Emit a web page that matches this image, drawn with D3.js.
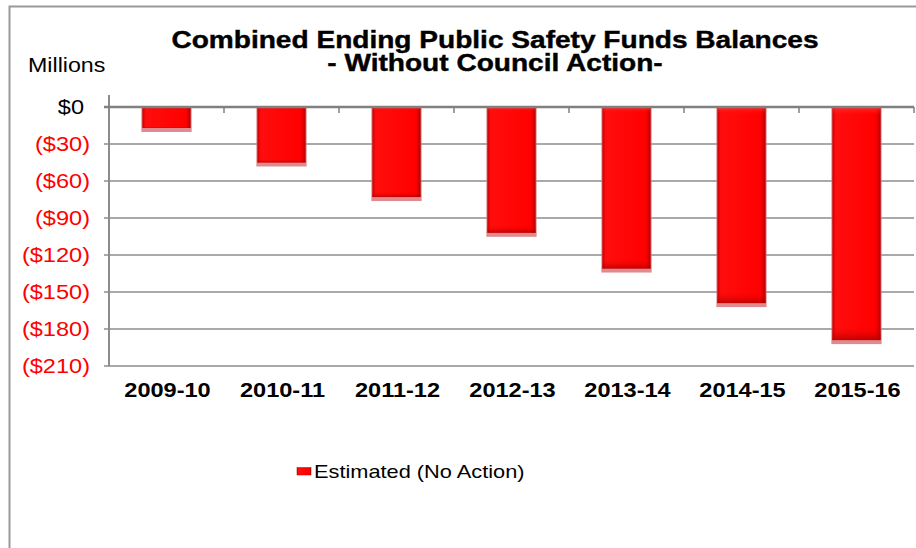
<!DOCTYPE html>
<html>
<head>
<meta charset="utf-8">
<script src="https://cdnjs.cloudflare.com/ajax/libs/d3/7.8.5/d3.min.js"></script>
<style>
  body { margin: 0; background: #fff; }
  text { font-family: "Liberation Sans", Arial, sans-serif; }
</style>
</head>
<body>
<div class="bigvis"></div>
<script>
var categories = ["2009-10", "2010-11", "2011-12", "2012-13", "2013-14", "2014-15", "2015-16"]
var balances = [-17, -45, -73, -102, -131, -159, -189]
var yTicks = [0, -30, -60, -90, -120, -150, -180, -210]
var seriesName = "Estimated (No Action)"
var titleLines = ["Combined Ending Public Safety Funds Balances", "- Without Council Action-"]

var width = 916, height = 548
var margin = {top: 107, right: 2, bottom: 182, left: 109}
var stretch = 1.19

var svg = d3.select(".bigvis").append("svg")
    .attr("width", width)
    .attr("height", height)

var defs = svg.append("defs")
var grad = defs.append("linearGradient").attr("id", "barGrad")
    .attr("x1", "0%").attr("x2", "100%").attr("y1", "0%").attr("y2", "0%")
grad.append("stop").attr("offset", "0%").attr("stop-color", "#c80000")
grad.append("stop").attr("offset", "7%").attr("stop-color", "#ff0d0d")
grad.append("stop").attr("offset", "90%").attr("stop-color", "#ff0000")
grad.append("stop").attr("offset", "100%").attr("stop-color", "#b80000")

var vgrad = defs.append("linearGradient").attr("id", "barShade")
    .attr("x1", "0%").attr("x2", "0%").attr("y1", "0%").attr("y2", "100%")
vgrad.append("stop").attr("offset", "0%").attr("stop-color", "#ff5050").attr("stop-opacity", 0.6)
vgrad.append("stop").attr("offset", "4%").attr("stop-color", "#ff0000").attr("stop-opacity", 0)
vgrad.append("stop").attr("offset", "94%").attr("stop-color", "#ff0000").attr("stop-opacity", 0)
vgrad.append("stop").attr("offset", "100%").attr("stop-color", "#900000").attr("stop-opacity", 0.6)

// chart border (only left and top visible)
svg.append("path")
    .attr("d", "M9.5,548 V6.5 H916")
    .attr("fill", "none")
    .attr("stroke", "#9a9a9a")
    .attr("stroke-width", 2)

var x = d3.scaleBand()
    .domain(categories)
    .range([margin.left, width - margin.right])
    .paddingInner(0.58)
    .paddingOuter(0.29)

var y = d3.scaleLinear()
    .domain([d3.min(yTicks), 0])
    .range([height - margin.bottom, margin.top])

function stext(sel, px, py, size){
  return sel.attr("transform", "translate(" + px + "," + py + ") scale(" + stretch + ",1)")
      .style("font-size", size + "px")
}

// gridlines
svg.append("g").selectAll("line")
    .data(yTicks.filter(function(d){ return d != 0 }))
  .enter().append("line")
    .attr("x1", margin.left - 5)
    .attr("x2", width - margin.right)
    .attr("y1", function(d){ return y(d) })
    .attr("y2", function(d){ return y(d) })
    .attr("stroke", "#8c8c8c")
    .attr("stroke-width", 1.5)

// left axis line
svg.append("line")
    .attr("x1", margin.left).attr("x2", margin.left)
    .attr("y1", 95).attr("y2", y(d3.min(yTicks)))
    .attr("stroke", "#8c8c8c").attr("stroke-width", 2)

// y tick labels
svg.append("g").selectAll("text")
    .data(yTicks)
  .enter().append("text")
    .each(function(d){
      stext(d3.select(this), d == 0 ? 84 : 90, y(d) + 7, 19.8)
    })
    .attr("text-anchor", "end")
    .attr("fill", function(d){ return d < 0 ? "#ff0000" : "#000" })
    .text(function(d){ return d == 0 ? "$0" : "($" + (-d) + ")" })

stext(svg.append("text"), 28, 72, 19.5).text("Millions")

// bars
var bars = svg.append("g")
bars.selectAll(".shadow")
    .data(balances)
  .enter().append("rect")
    .attr("class", "shadow")
    .attr("x", function(d, i){ return x(categories[i]) - 1 })
    .attr("y", y(0))
    .attr("width", x.bandwidth() + 2)
    .attr("height", function(d){ return y(d) - y(0) + 4 })
    .attr("fill", "#d9767a")
    .attr("opacity", 0.85)

bars.selectAll(".bar")
    .data(balances)
  .enter().append("rect")
    .attr("class", "bar")
    .attr("x", function(d, i){ return x(categories[i]) })
    .attr("y", y(0))
    .attr("width", x.bandwidth())
    .attr("height", function(d){ return y(d) - y(0) })
    .attr("fill", "url(#barGrad)")

bars.selectAll(".shade")
    .data(balances)
  .enter().append("rect")
    .attr("class", "shade")
    .attr("x", function(d, i){ return x(categories[i]) })
    .attr("y", y(0))
    .attr("width", x.bandwidth())
    .attr("height", function(d){ return y(d) - y(0) })
    .attr("fill", "url(#barShade)")

// zero line + category ticks
svg.append("line")
    .attr("x1", margin.left - 5).attr("x2", width - margin.right)
    .attr("y1", y(0)).attr("y2", y(0))
    .attr("stroke", "#808080").attr("stroke-width", 2.5)

var step = x.step()
svg.append("g").selectAll("line")
    .data(categories)
  .enter().append("line")
    .attr("x1", function(d, i){ return margin.left + step * (i + 1) })
    .attr("x2", function(d, i){ return margin.left + step * (i + 1) })
    .attr("y1", y(0)).attr("y2", y(0) + 6)
    .attr("stroke", "#808080").attr("stroke-width", 1.5)

// category labels
svg.append("g").selectAll("text")
    .data(categories)
  .enter().append("text")
    .each(function(d){
      stext(d3.select(this), x(d) + x.bandwidth() / 2 + 1, 397, 19.8)
    })
    .attr("text-anchor", "middle")
    .style("font-weight", "bold")
    .text(function(d){ return d })

// title
titleLines.forEach(function(t, i){
  stext(svg.append("text"), 495, i == 0 ? 48 : 71, 23.6)
      .attr("text-anchor", "middle")
      .style("font-weight", "bold")
      .attr("stroke", "#000").attr("stroke-width", 0.4)
      .text(t)
})

// legend
svg.append("rect")
    .attr("x", 297).attr("y", 467.5)
    .attr("width", 14).attr("height", 7.5)
    .attr("fill", "url(#barGrad)")
    .attr("stroke", "#b00000").attr("stroke-width", 0.5)
stext(svg.append("text"), 314, 478, 18.3).text(seriesName)
</script>
</body>
</html>
